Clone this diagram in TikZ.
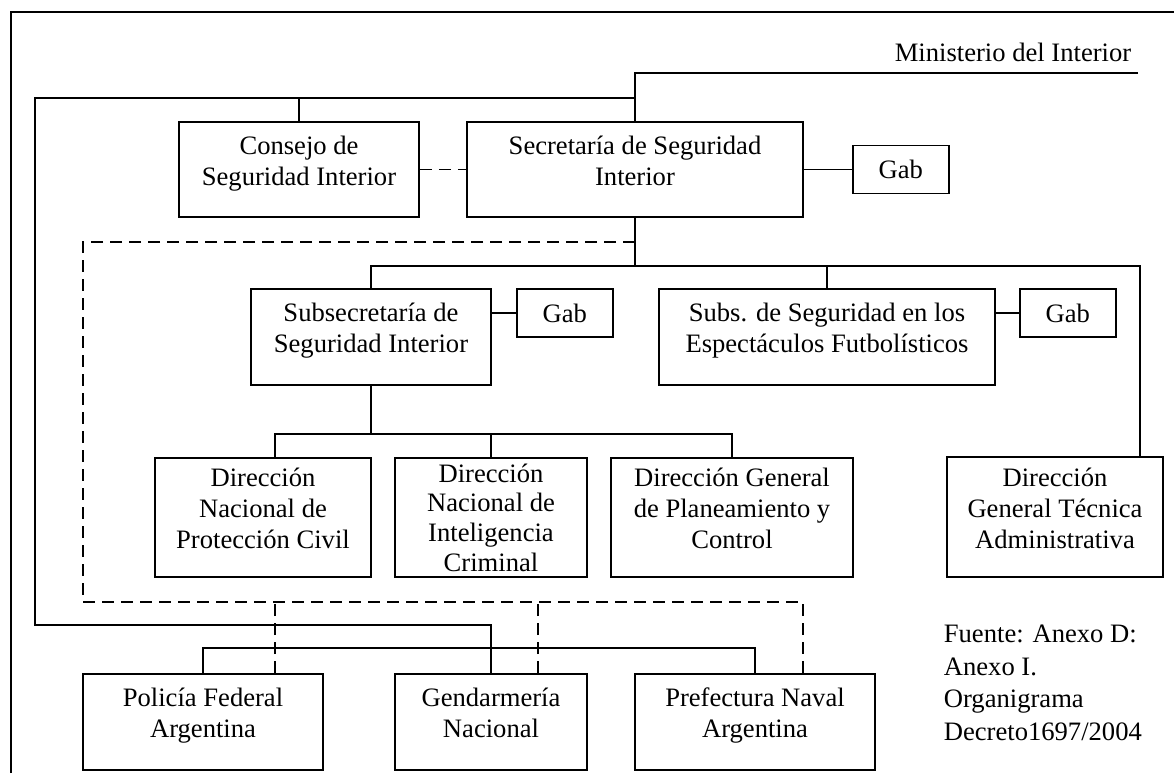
\documentclass[tikz,border=0pt]{standalone}
\usepackage{fontspec}
\setmainfont{Liberation Serif}
\usetikzlibrary{positioning}
\tikzset{auto, node distance=12pt, font=\fontsize{13.3}{15.5}\selectfont}
\tikzstyle{block} = [draw, fill=white, rectangle, inner sep=0pt, minimum height=48pt, text depth=9pt, text centered, align=center]
\tikzstyle{gab} = [draw, fill=white, rectangle, inner sep=0pt, minimum width=48pt, minimum height=24pt]
\tikzstyle{dep} = [dash pattern=on 6pt off 3.5pt]

\begin{document}
\begin{tikzpicture}[x=0.5pt, y=-0.5pt, line width=0.9pt]
    \useasboundingbox (0,0) rectangle (1174,773);
    \draw (11,773) |- (1174,12);

    \node (min) at (1013,52) {Ministerio del Interior};
    \coordinate (mr) at (1138,73);

    \node [block, minimum width=120pt, minimum height=47.5pt] (csi) at (299,169.5) {Consejo de\\Seguridad Interior};
    \node [block, minimum width=168pt, minimum height=47.5pt] (ssi) at (635,169.5) {Secretaría de Seguridad\\Interior};
    \node [gab, right=24pt of ssi] (gab1) {Gab};

    \node [block, minimum width=120pt] (subsi) at (371,337) {Subsecretaría de\\Seguridad Interior};
    \node [gab, below right=0pt and 12pt of subsi.north east] (gab2) {Gab};
    \node [block, minimum width=168pt] (subsf) at (827,337) {Subs. de Seguridad en los\\Espectáculos Futbolísticos};
    \node [gab, below right=0pt and 11.5pt of subsf.north east] (gab3) {Gab};

    \node [block, minimum width=108pt, minimum height=60pt] (dgta) at (1055,517) {Dirección\\General Técnica\\Administrativa};
    \node [block, minimum width=108pt, minimum height=59.5pt] (dnpc) at (263,517.5) {Dirección\\Nacional de\\Protección Civil};
    \node [block, minimum width=96pt, minimum height=59.5pt, text depth=0pt, font=\fontsize{13.3}{14.8}\selectfont] (dnic) at (491,517.5) {Dirección\\Nacional de\\Inteligencia\\Criminal};
    \node [block, minimum width=121pt, minimum height=59.5pt] (dgpc) at (732,517.5) {Dirección General\\de Planeamiento y\\Control};

    \node [block, minimum width=120pt] (pfa) at (203,722) {Policía Federal\\Argentina};
    \node [block, minimum width=96pt] (gna) at (491,722) {Gendarmería\\Nacional};
    \node [block, minimum width=120pt] (pna) at (755,722) {Prefectura Naval\\Argentina};

    \node [anchor=north west, align=left, inner sep=0pt, font=\fontsize{13.3}{16.3}\selectfont] (src) at (943,624) {Fuente: Anexo D:\\Anexo I.\\Organigrama\\Decreto1697/2004};

    % dependencia del ministerio
    \draw (mr) -| (ssi.north);
    \coordinate (jt) at (35,98);
    \draw (gna.north) -- ++(0,-48) -| (jt) -- (jt -| ssi.north);
    \draw (csi.north) -- (csi.north |- jt);
    \draw [dep] (csi) -- (ssi);
    \draw (ssi) -- (gab1);

    % secretaria y subsecretarias
    \draw (ssi.south) -- ++(0,48) coordinate (b1);
    \draw (subsi.north) |- (b1) -| ([xshift=-12pt]dgta.north east);
    \draw (subsf.north) -- (subsf.north |- b1);
    \draw (subsi.east |- gab2.west) -- (gab2.west);
    \draw (subsf.east |- gab3.west) -- (gab3.west);

    % direcciones nacionales
    \draw (subsi.south) -- ++(0,48) coordinate (b2);
    \draw ([xshift=6pt]dnpc.north) |- (b2) -| (dgpc.north);
    \draw (dnic.north) -- (dnic.north |- b2);

    % fuerzas de seguridad
    \draw (pfa.north) -- ++(0,-25) -| (pna.north);
    \coordinate (dt) at (635,242);
    \coordinate (dl) at (83,602);
    \draw [dep] (dt) -| (dl) -| ([xshift=24pt]pna.north);
    \draw [dep] ([xshift=36pt]pfa.north) -- ([xshift=36pt]pfa.north |- dl);
    \draw [dep] ([xshift=23.5pt]gna.north) -- ([xshift=23.5pt]gna.north |- dl);
\end{tikzpicture}
\end{document}
